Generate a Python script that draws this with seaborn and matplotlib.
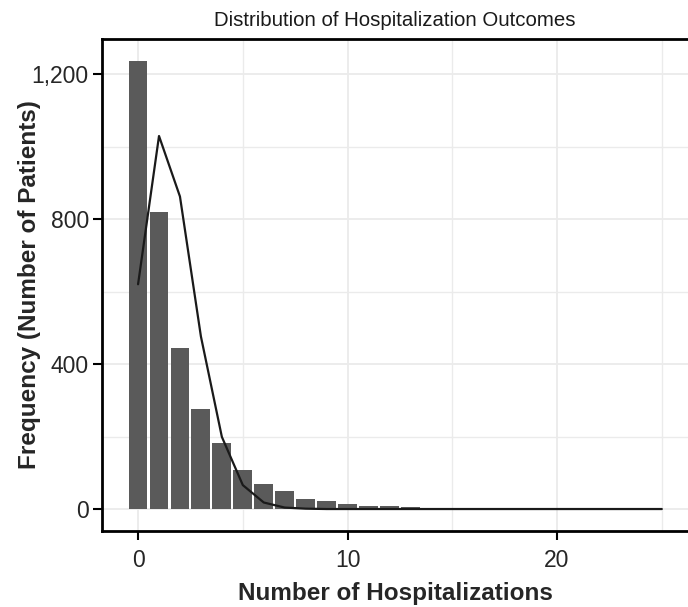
"""
入院回数の分布（ヒストグラム＋ポアソン近似線）
"""
import pandas as pd
import seaborn as sns
import matplotlib.pyplot as plt
from matplotlib.ticker import FuncFormatter, MultipleLocator

# 観測された入院回数ごとの患者数
hosp_counts = [0, 1, 2, 3, 4, 5, 6, 7, 8, 9, 10, 11, 12, 13]
n_patients = [1236, 819, 444, 275, 181, 107, 68, 51, 28, 21, 15, 7, 8, 5]

# 当てはめ分布（折れ線）
fit_x = list(range(26))
fit_y = [620, 1029, 862, 476, 199, 66, 18, 4, 1, 0, 0, 0, 0,
         0, 0, 0, 0, 0, 0, 0, 0, 0, 0, 0, 0, 0]

title = "Distribution of Hospitalization Outcomes"
x_label = "Number of Hospitalizations"
y_label = "Frequency (Number of Patients)"

sns.set_style("white")
plt.rcParams['font.family'] = ['Liberation Sans', 'DejaVu Sans']

bars = pd.DataFrame({"x": hosp_counts, "n": n_patients})
fit = pd.DataFrame({"x": fit_x, "n": fit_y})

fig = plt.figure(figsize=(6.88, 6.07), dpi=100)
ax = fig.add_axes([0.1483, 0.1245, 0.8523, 0.812])

# グリッド（ggplot風）
ax.set_axisbelow(True)
ax.xaxis.set_major_locator(MultipleLocator(10))
ax.xaxis.set_minor_locator(MultipleLocator(5))
ax.yaxis.set_major_locator(MultipleLocator(400))
ax.yaxis.set_minor_locator(MultipleLocator(200))
ax.grid(which="major", color="#ebebeb", lw=1.3)
ax.grid(which="minor", color="#ebebeb", lw=1.0)

sns.barplot(data=bars, x="x", y="n", native_scale=True, width=0.9,
            color="#5a5a5a", saturation=1, linewidth=0, ax=ax, zorder=2)
sns.lineplot(data=fit, x="x", y="n", color="#1a1a1a", lw=1.6, ax=ax, zorder=3)

ax.set_xlim(-1.72, 26.27)
ax.set_ylim(-61.8, 1297.8)
ax.yaxis.set_major_formatter(FuncFormatter(lambda v, p: f"{int(v):,}"))

for side in ["left", "bottom", "top"]:
    ax.spines[side].set_color("black")
    ax.spines[side].set_linewidth(2.0)
ax.spines["right"].set_visible(False)

ax.tick_params(which="major", length=6.5, width=1.5, color="black",
               labelsize=16.5, labelcolor="#262626",
               bottom=True, left=True)
ax.tick_params(axis="x", which="major", pad=6)
ax.tick_params(axis="y", which="major", pad=3)
ax.tick_params(which="minor", length=0)

ax.set_title(title, fontsize=14.7, color="#1a1a1a", pad=9)
ax.set_xlabel(x_label, fontsize=17.5, fontweight="bold")
ax.set_ylabel(y_label, fontsize=17.5, fontweight="bold")
ax.xaxis.set_label_coords(0.5, -0.103)
ax.yaxis.set_label_coords(-0.104, 0.5)

fig.savefig("out.png", dpi=100)
plt.close()
